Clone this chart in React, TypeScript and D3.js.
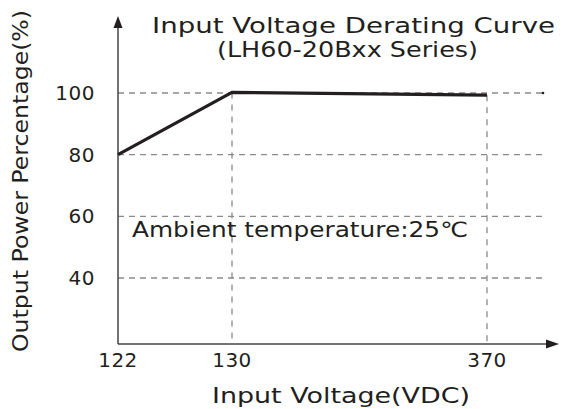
import * as d3 from 'd3';

// data
const voltTicks = [122, 130, 370];
const powerTicks = [40, 60, 80, 100];
const curveVolt = [122, 130, 370];
const curvePower = [80, 100.2, 99.3];
const gridVolt = [130, 370];

const W = 563;
const H = 409;
const font = "'DejaVu Sans', 'Liberation Sans', sans-serif";
const ink = '#231f20';
const tickStyle = { fontFamily: "'DejaVu Sans', sans-serif", fontSize: '20px', letterSpacing: '0.5px' };

const App = () => {
  // x is piecewise linear like the original drawing
  const x = d3.scaleLinear().domain(voltTicks).range([118, 232, 487]);
  const y = d3.scaleLinear().domain([40, 100]).range([278, 93]);

  const axisY = 344;
  const axisTop = 16;
  const axisRight = 559;
  const gridRight = 543;

  const line = d3
    .line<number>()
    .x((d, i) => x(curveVolt[i]))
    .y((d) => y(d));

  return (
    <svg width={W} height={H} style={{ position: 'absolute', left: 0, top: 0, background: '#fff' }}>
      <rect width={W} height={H} fill="#fff" />

      {/* horizontal grid */}
      {powerTicks.map((p) => (
        <line key={'h' + p} x1={x(122)} x2={gridRight} y1={y(p)} y2={y(p)}
          stroke="#8a8a8a" strokeWidth={1.3} strokeDasharray="6,5" />
      ))}
      <circle cx={gridRight} cy={y(100)} r={1.3} fill={ink} />

      {/* vertical grid */}
      {gridVolt.map((v, i) => (
        <line key={'v' + v} x1={x(v)} x2={x(v)} y1={y(curvePower[i + 1])} y2={axisY}
          stroke="#8a8a8a" strokeWidth={1.3} strokeDasharray="6,6" />
      ))}

      {/* axes */}
      <line x1={x(122)} x2={x(122)} y1={axisY} y2={axisTop + 10} stroke="#444" strokeWidth={1.5} />
      <path d={`M${x(122)},${axisTop} l-4.5,12 l9,0 z`} fill={ink} />
      <line x1={x(122)} x2={axisRight - 10} y1={axisY} y2={axisY} stroke="#444" strokeWidth={1.5} />
      <path d={`M${axisRight},${axisY} l-13,-4.5 l0,9 z`} fill={ink} />

      {/* curve */}
      <path d={line(curvePower) || ''} fill="none" stroke={ink} strokeWidth={3.2} />

      {/* tick labels */}
      {voltTicks.map((v) => (
        <text key={'xt' + v} x={x(v)} y={367} textAnchor="middle" style={tickStyle} fill={ink}>{v}</text>
      ))}
      {powerTicks.map((p) => (
        <text key={'yt' + p} x={95} y={y(p) + 7} textAnchor="end" style={tickStyle} fill={ink}>{p}</text>
      ))}

      {/* titles */}
      <text x={152} y={33} fontFamily={font} fontSize={22} fill={ink}
        textLength={403} lengthAdjust="spacingAndGlyphs">Input Voltage Derating Curve</text>
      <text x={217} y={57} fontFamily={font} fontSize={21} fill={ink}
        textLength={261} lengthAdjust="spacingAndGlyphs">(LH60-20Bxx Series)</text>
      <text x={132} y={237} fontFamily={font} fontSize={21} fill={ink}
        textLength={336} lengthAdjust="spacingAndGlyphs">Ambient temperature:25℃</text>
      <text x={212} y={403} fontFamily={font} fontSize={21} fill={ink}
        textLength={258} lengthAdjust="spacingAndGlyphs">Input Voltage(VDC)</text>
      <text transform="translate(28,181) rotate(-90)" textAnchor="middle" fontFamily={font}
        fontSize={21} fill={ink} textLength={342} lengthAdjust="spacingAndGlyphs">Output Power Percentage(%)</text>
    </svg>
  );
};

export default App;
